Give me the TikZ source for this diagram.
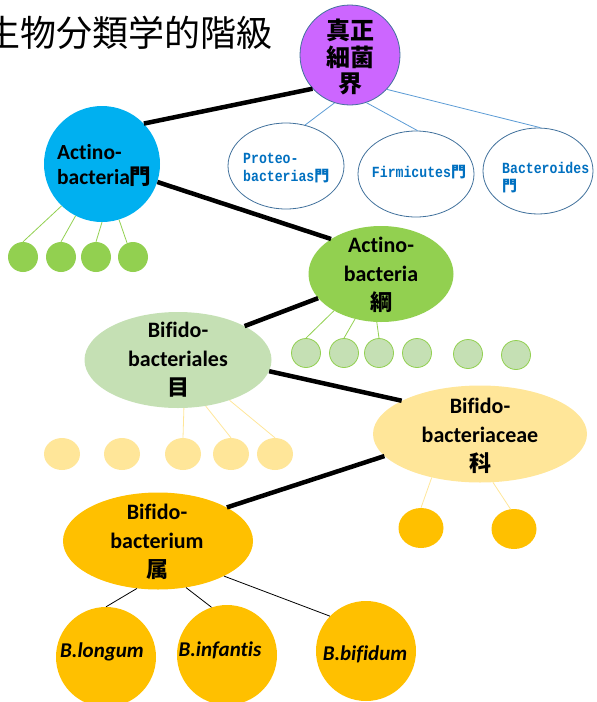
\documentclass[tikz,border=0pt]{standalone}
\usepackage{fontspec}
\setmainfont{Carlito}[Ligatures=CommonOff]
\newfontfamily\cjk{Noto Sans CJK JP}
\newfontfamily\bmono{Liberation Mono}[FakeStretch=0.85]
\usetikzlibrary{shapes.geometric}
\definecolor{kviolet}{HTML}{CC66FF}
\definecolor{edgeblue}{HTML}{41719C}
\definecolor{lineblue}{HTML}{5B9BD5}
\definecolor{txtblue}{HTML}{0070C0}
\definecolor{skyblue}{HTML}{00B0F0}
\definecolor{grn}{HTML}{92D050}
\definecolor{lgrn}{HTML}{C5E0B4}
\definecolor{lyel}{HTML}{FFE699}
\definecolor{orng}{HTML}{FFC000}
\tikzset{
  bigline/.style={line width=4.5pt, black},
  blueline/.style={line width=0.8pt, lineblue},
  grnline/.style={line width=0.8pt, grn},
  yelline/.style={line width=0.8pt, lyel},
  blkline/.style={line width=0.8pt, black},
  circ/.style={circle, inner sep=0pt, minimum size=#1},
  ell/.style n args={2}{ellipse, inner sep=0pt, minimum width=#1, minimum height=#2},
  txt/.style={inner sep=0pt, align=center, font=\bfseries\fontsize{22}{29}\selectfont},
  bluetxt/.style={inner sep=0pt, align=left, text=txtblue, font=\bmono\bfseries\fontsize{15.5}{18}\selectfont},
  sptxt/.style={inner sep=0pt, font=\bfseries\itshape\fontsize{21}{25}\selectfont},
}
\begin{document}
\begin{tikzpicture}[x=1pt,y=-1pt]
\useasboundingbox (0,0) rectangle (597,702);
% title
\node[anchor=east, inner sep=0pt, font=\cjk\fontsize{36}{40}\selectfont] (title) at (273,33) {生物分類学的階級};
% kingdom
\node[circ=100pt, fill=kviolet, draw=edgeblue, line width=0.8pt] (k) at (350,55) {};
\node[txt, font=\cjk\bfseries\fontsize{24}{26.5}\selectfont] (kt) at (350,57) {真正\\細菌\\界};
% phyla (white)
\node[ell={116pt}{86pt}, draw=edgeblue, line width=0.8pt, fill=white] (p1) at (286,166) {};
\node[ell={116pt}{86pt}, draw=edgeblue, line width=0.8pt, fill=white] (p2) at (416,174) {};
\node[ell={110pt}{86pt}, draw=edgeblue, line width=0.8pt, fill=white] (p3) at (538,171) {};
\node[bluetxt, anchor=west] (p1t) at (243,168) {Proteo-\\bacterias{\cjk\bfseries\fontsize{15}{18}\selectfont 門}};
\node[bluetxt] (p2t) at (419,172) {Firmicutes{\cjk\bfseries\fontsize{15}{18}\selectfont 門}};
\node[bluetxt, anchor=west] (p3t) at (502,178) {Bacteroides\\{\cjk\bfseries\fontsize{15}{18}\selectfont 門}};
\draw[blueline] (k.252) -- (p1.65);
\draw[blueline] (k.289) -- (p2.88);
\draw[blueline] (k.317) -- (p3.87);
% phylum Actinobacteria
\node[circ=116pt, fill=skyblue] (pa) at (102,164) {};
\node[txt, anchor=west, align=left, font=\bfseries\fontsize{21.5}{25}\selectfont] (pat) at (57,165) {Actino-\\bacteria{\cjk\bfseries 門}};
\draw[bigline] (pa.44) -- (k.222);
\foreach \i/\x in {1/23,2/61,3/96,4/133}
  \node[circ=30pt, fill=grn] (g\i) at (\x,257) {};
\draw[grnline] (pa.226) -- (g1.90);
\draw[grnline] (pa.243) -- (g2.90);
\draw[grnline] (pa.270) -- (g3.90);
\draw[grnline] (pa.287) -- (g4.113);
% class
\node[ell={145pt}{96pt}, fill=grn] (c) at (381,274) {};
\node[txt] (ct) at (381,275) {Actino-\\bacteria\\{\cjk\bfseries 綱}};
\draw[bigline] (pa.-18) -- (c.145);
\foreach \i/\x/\y in {1/306/353,2/344/353,3/379/353,4/417/353,5/468/354,6/516/355}
  \node[circ=29pt, fill=lgrn, draw=grn, line width=0.8pt] (lg\i) at (\x,\y) {};
\draw[grnline] (c.218) -- (lg1.90);
\draw[grnline] (c.240) -- (lg2.90);
\draw[grnline] (c.265) -- (lg3.90);
% order
\node[ell={187pt}{96pt}, fill=lgrn] (o) at (178,360) {};
\node[txt] (ot) at (178,360) {Bifido-\\bacteriales\\{\cjk\bfseries 目}};
\draw[bigline] (c.201) -- (o.27);
\foreach \i/\x in {1/62,2/122,3/183,4/231,5/275}
  \node[ell={36pt}{32pt}, fill=lyel] (y\i) at (\x,454) {};
\draw[yelline] (o.277) -- (y3.90);
\draw[yelline] (o.301) -- (y4.90);
\draw[yelline] (o.322) -- (y5.90);
% family
\node[ell={214pt}{97pt}, fill=lyel] (f) at (480,434) {};
\node[txt] (ft) at (480,436) {Bifido-\\bacteriaceae\\{\cjk\bfseries 科}};
\draw[bigline] (o.-7) -- (f.157);
\node[ell={45pt}{40pt}, fill=orng] (oc1) at (421,528) {};
\node[ell={45pt}{40pt}, fill=orng] (oc2) at (514,529) {};
\draw[yelline] (f.222) -- (oc1.90);
\draw[yelline] (f.285) -- (oc2.100);
% genus
\node[ell={190pt}{97pt}, fill=orng] (ge) at (158,541) {};
\node[txt] (get) at (157,542) {Bifido-\\bacterium\\{\cjk\bfseries 属}};
\draw[bigline] (f.193) -- (ge.26);
% species
\node[circ=100pt, fill=orng] (s1) at (106,657) {};
\node[circ=100pt, fill=orng] (s2) at (227,655) {};
\node[circ=100pt, fill=orng] (s3) at (366,651) {};
\node[sptxt] (s1t) at (102,652) {B.longum};
\node[sptxt] (s2t) at (220,650) {B.infantis};
\node[sptxt] (s3t) at (365,654) {B.bifidum};
\draw[blkline] (ge.246) -- (s1.90);
\draw[blkline] (ge.301) -- (s2.108);
\draw[blkline] (ge.332) -- (s3.136);
\end{tikzpicture}
\end{document}
